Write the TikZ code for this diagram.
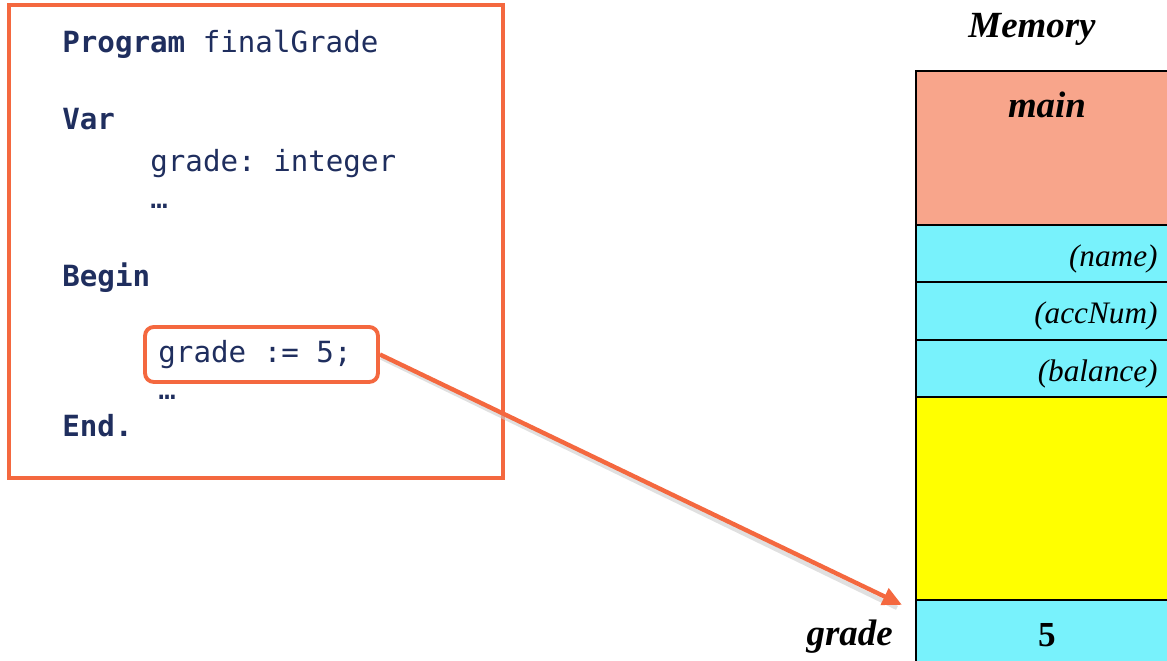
\documentclass[tikz,border=0pt]{standalone}
\usepackage{fontspec}
\setmainfont{Liberation Serif}
\setmonofont{DejaVu Sans Mono}
\usetikzlibrary{arrows.meta, calc, positioning}
\definecolor{codeblue}{HTML}{1F2E5E}
\definecolor{hiorange}{HTML}{F4683F}
\definecolor{mainred}{HTML}{F8A58B}
\definecolor{cellcyan}{HTML}{78F2FC}
\definecolor{freeyellow}{HTML}{FFFF00}
\tikzset{
	px/.style={x={(0.02cm,0cm)},y={(0cm,-0.02cm)}},
	code/.style={anchor=base west, inner sep=0pt, text=codeblue, font=\ttfamily\fontsize{16.6}{19}\selectfont},
	kw/.style={code, font=\ttfamily\bfseries\fontsize{16.6}{19}\selectfont},
	progbox/.style={draw=hiorange, line width=2.2pt, minimum width=9.88cm, minimum height=9.46cm, inner sep=0pt},
	hilite/.style={
		draw=hiorange, line width=2.2pt, rounded corners=5pt,
		minimum width=4.66cm, minimum height=1.1cm, inner sep=0pt,
		text=codeblue, font=\ttfamily\fontsize{16.6}{19}\selectfont
	},
	cell/.style={draw=black, line width=0.9pt, minimum width=5.24cm, inner sep=0pt, outer sep=0pt},
	celltxt/.style={anchor=base east, inner sep=0pt, font=\itshape\fontsize{17.8}{20}\selectfont},
	bigtxt/.style={anchor=base, inner sep=0pt, font=\bfseries\itshape\fontsize{21}{24}\selectfont},
	arrowline/.style={-{Triangle[length=11pt,width=10pt]}, hiorange, line width=2.5pt},
	shadowline/.style={black!20, line width=2.5pt, opacity=0.6}
}
\begin{document}
\begin{tikzpicture}[px]
	\clip (0,0) rectangle (1167,661);

	% program text
	\node[progbox] (prog) at (256,241.5) {};
	\node[kw] (lprog) at (62,53) {Program \mdseries finalGrade};
	\node[kw] (lvar) at (62,130) {Var};
	\node[code] (ldecl) at (150,172) {grade: integer};
	\node[code] (ldots1) at (150,209) {…};
	\node[kw] (lbegin) at (62,287) {Begin};
	\node[hilite] (assign) at (261.5,354.5) {grade~:=~5;\rule{0.26cm}{0pt}};
	\node[code] (ldots2) at (158,400) {…};
	\node[kw] (lend) at (62,437) {End.};

	% memory column
	\node[bigtxt] (memtitle) at (1032,38) {Memory};
	\node[cell, fill=mainred, minimum height=3.08cm, anchor=north west] (main) at (916,71) {};
	\node[cell, fill=cellcyan, minimum height=1.14cm, below=0pt of main] (name) {};
	\node[cell, fill=cellcyan, minimum height=1.16cm, below=0pt of name] (accnum) {};
	\node[cell, fill=cellcyan, minimum height=1.14cm, below=0pt of accnum] (balance) {};
	\node[cell, fill=freeyellow, minimum height=4.06cm, below=0pt of balance] (free) {};
	\node[cell, fill=cellcyan, minimum height=1.3cm, below=0pt of free] (gradecell) {};

	\node[bigtxt] (mainlbl) at ($(main.north)+(0,47)$) {main};
	\node[celltxt] (namelbl) at ($(name.east)+(-20,13)$) {(name)};
	\node[celltxt] (accnumlbl) at ($(accnum.east)+(-20,13)$) {(accNum)};
	\node[celltxt] (balancelbl) at ($(balance.east)+(-20,13)$) {(balance)};
	\node[anchor=base, inner sep=0pt, font=\bfseries\fontsize{20}{24}\selectfont] (val) at ($(gradecell.center)+(0,14)$) {5};
	\node[bigtxt, anchor=base east] (gradelbl) at ($(gradecell.west)+(-23,13)$) {grade};

	% assignment arrow
	\coordinate (tip) at ($(gradecell.north west)+(-14,5)$);
	\draw[shadowline] ([shift={(1,3)}]assign.east) -- ([shift={(-5,3)}]tip);
	\draw[arrowline] (assign.east) -- (tip);
\end{tikzpicture}
\end{document}
